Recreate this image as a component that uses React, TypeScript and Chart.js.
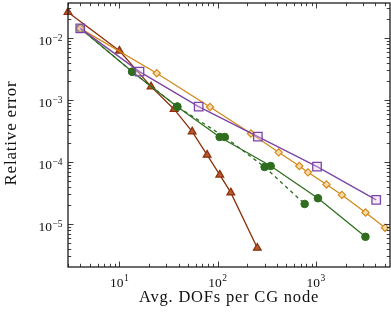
import React, { useEffect, useRef } from "react";
import { Chart, registerables } from "chart.js";

Chart.register(...registerables);

// ---- data ----
const brownX = [3, 10, 21, 36, 55, 78, 105, 136, 253];
const brownY = [0.026, 0.0062, 0.00164, 0.00071, 0.000308, 0.00013, 0.000062, 0.000032, 0.0000041];

const purpleX = [4, 16, 64, 256, 1024, 4096];
const purpleY = [0.0143, 0.00287, 0.00078, 0.000257, 0.000084, 0.0000244];

const orangeX = [4, 24, 83.5, 218, 417, 676, 828, 1279, 1837, 3190, 5035];
const orangeY = [0.0143, 0.0027, 0.00077, 0.000288, 0.000143, 0.000086, 0.000068, 0.0000434, 0.0000294, 0.0000153, 0.0000087];

const greenX = [4, 13.5, 38.8, 104.7, 346, 1047, 3185];
const greenY = [0.0143, 0.00286, 0.00078, 0.000253, 0.000086, 0.000026, 0.0000062];

const greenDashX = [4, 13.5, 38.8, 118, 300, 767];
const greenDashY = [0.0143, 0.00286, 0.00078, 0.000253, 0.000083, 0.000021];

const xMajorTicks = [10, 100, 1000];
const xTickExponents = ["1", "2", "3"];
const yMajorTicks = [1e-2, 1e-3, 1e-4, 1e-5];
const yTickExponents = ["\u22122", "\u22123", "\u22124", "\u22125"];

const X_MIN = 3;
const X_MAX = 5660;
const Y_MIN = 2.02e-6;
const Y_MAX = 0.03668;

const xTitle = "Avg. DOFs per CG node";
const yTitle = "Relative error";

const zip = (xs: number[], ys: number[]) => xs.map((x, i) => ({ x, y: ys[i] }));

const FONT = "'Liberation Serif', 'Times New Roman', serif";

const framePlugin = {
  id: "pgfFrame",
  afterDraw(chart: any) {
    const { ctx, chartArea } = chart;
    const { left, right, top, bottom } = chartArea;
    const xs = chart.scales.x;
    const ys = chart.scales.y;
    ctx.save();
    ctx.strokeStyle = "#262626";
    ctx.lineWidth = 0.9;
    const major = 5.5;
    const minor = 3.2;
    // x ticks
    for (let d = 0; d <= 4; d++) {
      for (let k = 1; k <= 9; k++) {
        const v = k * Math.pow(10, d);
        if (v < X_MIN || v > X_MAX) continue;
        const px = Math.round(xs.getPixelForValue(v)) + 0.5;
        const len = k === 1 ? major : minor;
        ctx.beginPath();
        ctx.moveTo(px, bottom);
        ctx.lineTo(px, bottom - len);
        ctx.moveTo(px, top);
        ctx.lineTo(px, top + len);
        ctx.stroke();
      }
    }
    // y ticks
    for (let d = -6; d <= -1; d++) {
      for (let k = 1; k <= 9; k++) {
        const v = k * Math.pow(10, d);
        if (v < Y_MIN || v > Y_MAX) continue;
        const py = Math.round(ys.getPixelForValue(v)) + 0.5;
        const len = k === 1 ? major : minor;
        ctx.beginPath();
        ctx.moveTo(left, py);
        ctx.lineTo(left + len, py);
        ctx.moveTo(right, py);
        ctx.lineTo(right - len, py);
        ctx.stroke();
      }
    }
    // frame
    ctx.lineWidth = 1.3;
    ctx.strokeStyle = "#1e1e1e";
    ctx.strokeRect(left, top, right - left, bottom - top);

    // tick labels
    ctx.fillStyle = "#111";
    ctx.textBaseline = "alphabetic";
    const baseFont = `13.5px ${FONT}`;
    const expFont = `9.5px ${FONT}`;
    xMajorTicks.forEach((v, i) => {
      const px = xs.getPixelForValue(v);
      ctx.font = baseFont;
      const w1 = ctx.measureText("10").width;
      ctx.font = expFont;
      const w2 = ctx.measureText(xTickExponents[i]).width;
      const start = px - (w1 + w2 + 0.5) / 2;
      ctx.font = baseFont;
      ctx.textAlign = "left";
      ctx.fillText("10", start, 286.5);
      ctx.font = expFont;
      ctx.fillText(xTickExponents[i], start + w1 + 0.5, 281);
    });
    yMajorTicks.forEach((v, i) => {
      const py = ys.getPixelForValue(v);
      ctx.font = expFont;
      const w2 = ctx.measureText(yTickExponents[i]).width;
      const endX = 62.5;
      ctx.textAlign = "left";
      ctx.fillText(yTickExponents[i], endX - w2, py + 2.8);
      ctx.font = baseFont;
      ctx.textAlign = "right";
      ctx.fillText("10", endX - w2 - 0.5, py + 7.2);
    });

    // axis titles
    ctx.font = `16.5px ${FONT}`;
    (ctx as any).letterSpacing = "0.8px";
    ctx.textAlign = "center";
    ctx.fillText(xTitle, (left + right) / 2, 301.5);
    ctx.save();
    ctx.font = `17px ${FONT}`;
    ctx.translate(15.5, (top + bottom) / 2 - 2);
    ctx.rotate(-Math.PI / 2);
    ctx.fillText(yTitle, 0, 0);
    ctx.restore();
    (ctx as any).letterSpacing = "0px";
    ctx.restore();
  },
};

export default function App() {
  const ref = useRef<HTMLCanvasElement | null>(null);
  useEffect(() => {
    if (!ref.current) return;
    const brown = "#8c2f0b";
    const purple = "#7b44a6";
    const orange = "#d4891a";
    const green = "#2f6e1f";
    const chart = new Chart(ref.current, {
      type: "line",
      data: {
        datasets: [
          {
            data: zip(purpleX, purpleY),
            borderColor: purple,
            borderWidth: 1.3,
            pointStyle: "rect",
            pointRadius: 6,
            pointBorderWidth: 1.3,
            pointBorderColor: purple,
            pointBackgroundColor: "rgba(225,205,240,0.35)",
            clip: false,
          },
          {
            data: zip(orangeX, orangeY),
            borderColor: orange,
            borderWidth: 1.3,
            pointStyle: "rectRot",
            pointRadius: 3.6,
            pointBorderWidth: 1.2,
            pointBorderColor: orange,
            pointBackgroundColor: "rgba(250,222,170,0.9)",
            clip: false,
          },
          {
            data: zip(greenX, greenY),
            borderColor: green,
            borderWidth: 1.3,
            pointStyle: "circle",
            pointRadius: 3.8,
            pointBorderWidth: 1,
            pointBorderColor: green,
            pointBackgroundColor: green,
            clip: false,
          },
          {
            data: zip(greenDashX, greenDashY),
            borderColor: green,
            borderWidth: 1.3,
            borderDash: [3.5, 3.5],
            pointStyle: "circle",
            pointRadius: 3.8,
            pointBorderWidth: 1,
            pointBorderColor: green,
            pointBackgroundColor: green,
            clip: false,
          },
          {
            data: zip(brownX, brownY),
            borderColor: brown,
            borderWidth: 1.3,
            pointStyle: "triangle",
            pointRadius: 4.5,
            pointBorderWidth: 1.2,
            pointBorderColor: brown,
            pointBackgroundColor: "#b45a32",
            clip: false,
          },
        ],
      },
      options: {
        animation: false,
        responsive: false,
        maintainAspectRatio: false,
        layout: { autoPadding: false, padding: { left: 0, right: 1, top: 3, bottom: 0 } },
        plugins: { legend: { display: false }, tooltip: { enabled: false } },
        elements: { line: { tension: 0 } },
        scales: {
          x: {
            type: "logarithmic",
            min: X_MIN,
            max: X_MAX,
            grid: { display: false },
            border: { display: false },
            ticks: { display: false },
            afterFit: (s: any) => {
              s.height = 52;
            },
          },
          y: {
            type: "logarithmic",
            min: Y_MIN,
            max: Y_MAX,
            grid: { display: false },
            border: { display: false },
            ticks: { display: false },
            afterFit: (s: any) => {
              s.width = 68;
            },
          },
        },
      },
      plugins: [framePlugin],
    } as any);
    return () => chart.destroy();
  }, []);
  return (
    <div style={{ position: "fixed", left: 0, top: 0, width: 391, height: 319, background: "#fff" }}>
      <canvas ref={ref} width={391} height={319} style={{ display: "block", width: 391, height: 319 }} />
    </div>
  );
}
